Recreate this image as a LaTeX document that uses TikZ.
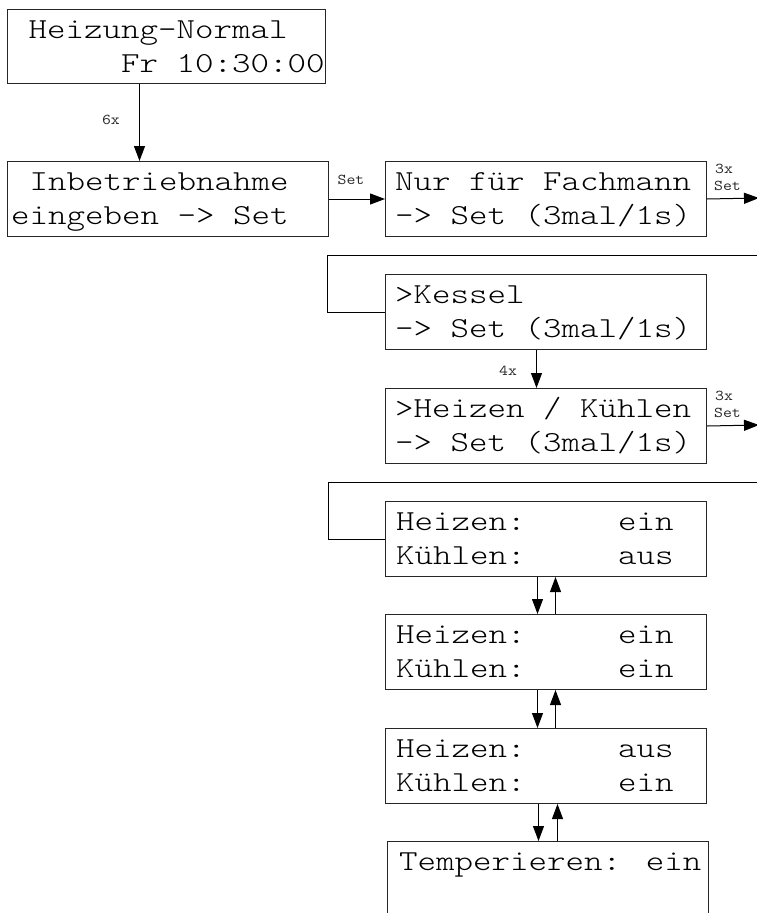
\documentclass[tikz,border=0pt]{standalone}
\usepackage{fontspec}
\newfontfamily\lcdfont{Latin Modern Mono Light}[FakeStretch=1.215]
\newfontfamily\lblfont{Latin Modern Mono}[FakeStretch=1.15]
\usetikzlibrary{arrows.meta}
\tikzset{
  lcd/.style={draw=black!85, line width=1pt, rectangle, anchor=north west,
    minimum width=321pt, minimum height=75pt, inner sep=0pt},
  lcdtxt/.style={anchor=base west, inner sep=0pt,
    font=\lcdfont\fontsize{29}{34}\selectfont},
  small/.style={inner sep=0pt, font=\lblfont\fontsize{15}{16}\selectfont, text=black!85},
  conn/.style={line width=1pt, draw=black},
  arr/.style={conn, -{Triangle[length=15pt,width=11pt]}},
}
\newcommand\lcdbox[7]{%
  \node[lcd,#7] (#1) at (#2,#3) {};
  \node[lcdtxt] (#1-l1) at ([shift={(#4,29)}]#1.north west) {#5};
  \node[lcdtxt] (#1-l2) at ([shift={(#4,63.5)}]#1.north west) {#6};
}
\newcommand\gapx[1]{\phantom{#1}}
\begin{document}
\begin{tikzpicture}[x=1pt,y=-1pt]
\useasboundingbox (0,0) rectangle (756,913);
\lcdbox{b1}{7}{9}{3}{\gapx{0}Heizung-Normal}{\gapx{000000}Fr 10:30:00}{minimum width=318pt, minimum height=74pt}
\lcdbox{b2}{7}{161}{4}{\gapx{0}Inbetriebnahme}{eingeben -> Set}{}
\lcdbox{b3}{385}{161}{10}{Nur für Fachmann}{-> Set (3mal/1s)}{}
\lcdbox{b4}{385}{274}{10}{>Kessel}{-> Set (3mal/1s)}{}
\lcdbox{b5}{385}{388}{10}{>Heizen / Kühlen}{-> Set (3mal/1s)}{}
\lcdbox{b6}{385}{501}{11}{Heizen:\gapx{00000}ein}{Kühlen:\gapx{00000}aus}{}
\lcdbox{b7}{385}{614}{11}{Heizen:\gapx{00000}ein}{Kühlen:\gapx{00000}ein}{}
\lcdbox{b8}{385}{728}{11}{Heizen:\gapx{00000}aus}{Kühlen:\gapx{00000}ein}{}
\lcdbox{b9}{387}{841}{12}{Temperieren: ein}{}{}

% free ends and corners
\coordinate (o1) at (759,198);
\coordinate (o2) at (759,425);
\coordinate (r1) at (757,255);
\coordinate (c1) at (327,255);
\coordinate (r2) at (757,482);
\coordinate (c2) at (328,482);

% connectors
\draw[arr] ([xshift=-27pt]b1.south) -- ([xshift=-27pt]b1.south |- b2.north);
\draw[arr] (b2.east) -- (b3.west);
\draw[arr] (b3.east) -- (o1);
\draw[conn] (r1) -- (c1) |- (b4.west);
\draw[arr] ([xshift=-9.5pt]b4.south) -- ([xshift=-9.5pt]b5.north);
\draw[arr] (b5.east) -- (o2);
\draw[conn] (r2) -- (c2) |- (b6.west);
\draw[arr] ([xshift=-8.5pt]b6.south) -- ([xshift=-8.5pt]b7.north);
\draw[arr] ([xshift=9.5pt]b7.north) -- ([xshift=9.5pt]b6.south);
\draw[arr] ([xshift=-8.5pt]b7.south) -- ([xshift=-8.5pt]b8.north);
\draw[arr] ([xshift=9.5pt]b8.north) -- ([xshift=9.5pt]b7.south);
\draw[arr] ([xshift=-7.5pt]b8.south) -- ([xshift=-9.5pt]b9.north);
\draw[arr] ([xshift=9.5pt]b9.north) -- ([xshift=11.5pt]b8.south);

% labels
\node[small, anchor=base] (l6x) at (111,124) {6x};
\node[small, anchor=base] (lset) at (351,184) {Set};
\node[small, anchor=base west] (l3a) at (715,173) {3x};
\node[small, anchor=base west] (l3b) at (714,190) {Set};
\node[small, anchor=base] (l4x) at (508,375) {4x};
\node[small, anchor=base west] (l3c) at (715,400) {3x};
\node[small, anchor=base west] (l3d) at (714,417) {Set};
\end{tikzpicture}
\end{document}
